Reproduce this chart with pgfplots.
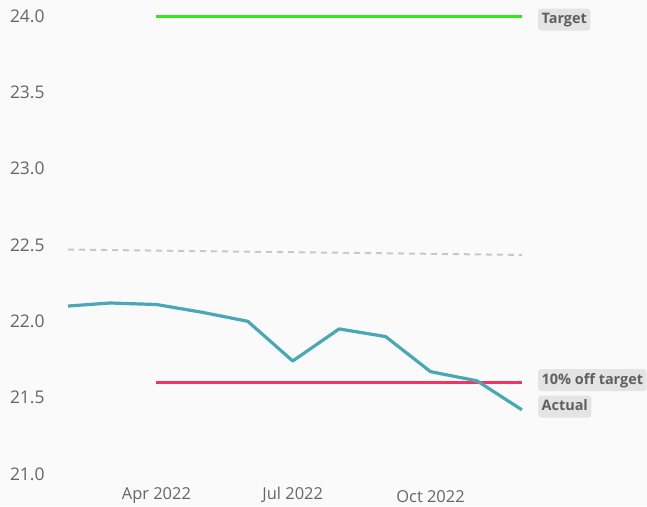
\documentclass[border=0pt]{standalone}
\usepackage{pgfplots}
\pgfplotsset{compat=1.18}
\usepackage{fontspec}
\setmainfont{Open Sans}
\definecolor{bg}{RGB}{250,250,250}
\definecolor{tickgrey}{RGB}{102,102,102}
\definecolor{lblfill}{RGB}{228,228,228}
\definecolor{lbltext}{RGB}{96,96,96}
\definecolor{actual}{RGB}{74,167,181}
\definecolor{target}{RGB}{45,235,25}
\definecolor{off}{RGB}{245,50,100}
\definecolor{trend}{RGB}{200,200,200}
\tikzset{lbl/.style={anchor=west, fill=lblfill, rounded corners=3bp, text=lbltext,
    font=\bfseries\fontsize{14.5}{17}\selectfont, inner xsep=3.5bp, inner ysep=4bp,
    text height=11bp, text depth=3bp, xshift=16bp}}
\pgfplotstableread{
x y
31 22.10
59 22.12
90 22.11
120 22.06
151 22.00
181 21.74
212 21.95
243 21.90
273 21.67
304 21.61
334 21.42
}\actualdata
\begin{document}
\begin{tikzpicture}
\begin{axis}[
  scale only axis, width=647bp, height=506bp,
  xmin=-14.4, xmax=417.5, ymin=20.79, ymax=24.105,
  axis line style={draw=none}, tick style={draw=none},
  axis background/.style={fill=bg},
  clip=false,
  ytick={21,21.5,22,22.5,23,23.5,24},
  yticklabel style={anchor=west, xshift=6.5bp, font=\fontsize{17.5}{20}\selectfont, text=tickgrey,
    /pgf/number format/.cd, fixed, fixed zerofill, precision=1, assume math mode=true},
  xtick={90,181,273},
  xticklabels={Apr 2022, Jul 2022, Oct 2022},
  xticklabel style={anchor=south, yshift=-0.5bp, font=\fontsize{16.5}{19}\selectfont, text=tickgrey},
]
\addplot[trend, line width=2bp, dash pattern=on 6bp off 5bp] coordinates {(31,22.47) (334,22.435)};
\addplot[target, line width=3bp] coordinates {(90,24) (334,24)};
\addplot[off, line width=3.5bp] coordinates {(90,21.6) (334,21.6)};
\addplot[actual, line width=3.2bp, line join=round] table[x=x,y=y] {\actualdata};
\node[lbl, yshift=-3.7bp] at (axis cs:334,24) {Target};
\node[lbl, yshift=2.3bp] at (axis cs:334,21.6) {10\% off target};
\node[lbl, yshift=3.3bp] at (axis cs:334,21.42) {Actual};
\end{axis}
\end{tikzpicture}
\end{document}
